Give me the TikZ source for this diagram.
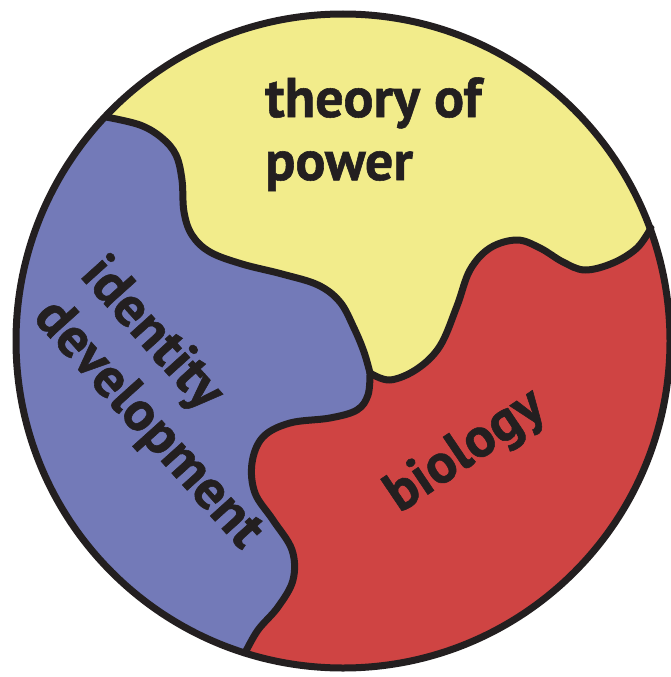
\documentclass[tikz,border=0pt]{standalone}
\usepackage{fontspec}
\setmainfont{PT Sans}[BoldFeatures={FakeBold=1}]
\definecolor{yel}{HTML}{F2EC8B}
\definecolor{blu}{HTML}{737AB8}
\definecolor{redc}{HTML}{CF4443}
\definecolor{ink}{HTML}{231F20}
\begin{document}
\begin{tikzpicture}[x=1pt,y=-1pt,
  edge/.style={line width=7pt, draw=ink, line join=round, line cap=round},
  lab/.style={text=ink, font=\fontsize{56}{63}\selectfont\bfseries, inner sep=0pt, align=left}]
\useasboundingbox (0,0) rectangle (671,677);
\coordinate (C) at (343,341);
\begin{scope}
\clip (C) circle[radius=327pt];
\fill[redc] (C) circle[radius=332pt];
\fill[yel] plot[smooth,tension=0.6] coordinates {(106,117) (140,125) (162,138) (176,155) (182,180) (184,212) (192,235) (210,252) (242,264) (282,274) (318,285) (340,302) (354,328) (364,352) (370,373)}
  -- plot[smooth,tension=0.6] coordinates {(370,373) (390,380) (417,369) (440,346) (457,306) (470,270) (490,248) (517,240) (540,248) (563,262) (585,270) (613,263) (637,248) (651,228)}
  -- (700,205) -- (700,-40) -- (-40,-40) -- (56,68) -- cycle;
\fill[blu] plot[smooth,tension=0.6] coordinates {(106,117) (140,125) (162,138) (176,155) (182,180) (184,212) (192,235) (210,252) (242,264) (282,274) (318,285) (340,302) (354,328) (364,352) (370,373)}
  -- plot[smooth,tension=0.6] coordinates {(370,373) (368,395) (357,410) (330,418) (290,423) (263,437) (252,463) (255,493) (273,520) (292,550) (293,580) (278,607) (258,630) (245,653)}
  -- (230,701) -- (-40,701) -- (-40,40) -- (56,68) -- cycle;
\end{scope}
\draw[edge] plot[smooth,tension=0.6] coordinates {(106,117) (140,125) (162,138) (176,155) (182,180) (184,212) (192,235) (210,252) (242,264) (282,274) (318,285) (340,302) (354,328) (364,352) (370,373)};
\draw[edge] plot[smooth,tension=0.6] coordinates {(370,373) (390,380) (417,369) (440,346) (457,306) (470,270) (490,248) (517,240) (540,248) (563,262) (585,270) (613,263) (637,248) (651,228)};
\draw[edge] plot[smooth,tension=0.6] coordinates {(370,373) (368,395) (357,410) (330,418) (290,423) (263,437) (252,463) (255,493) (273,520) (292,550) (293,580) (278,607) (258,630) (245,653)};
\draw[edge] (C) circle[radius=327pt];
\node[lab, anchor=base west] (power) at (265,180) {theory of\\power};
\node[lab, anchor=base west, rotate=-48] (ident) at (32,318) {identity\\development};
\node[lab, rotate=34] (bio) at (466,452) {biology};
\end{tikzpicture}
\end{document}
